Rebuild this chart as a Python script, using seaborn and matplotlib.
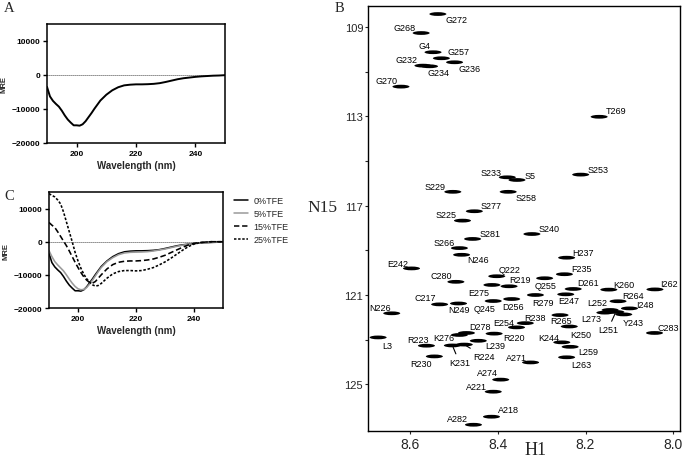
import numpy as np
import pandas as pd
import matplotlib
matplotlib.use("Agg")
import matplotlib.pyplot as plt
from matplotlib.path import Path
import seaborn as sns

# ---------------- data: CD spectra ----------------
wavelength = [190, 191, 192, 193, 194, 195, 196, 197, 198, 199, 200, 201, 202, 203, 204,
              205, 206, 207, 208, 210, 212, 214, 216, 218, 220, 222, 224, 226, 228, 230,
              232, 234, 236, 238, 240, 242, 244, 246, 248, 250]
mre_0 = [-3500, -6300, -7600, -8500, -9300, -10500, -11900, -13100, -14000, -14800, -14800,
         -14900, -14500, -13600, -12400, -11200, -9900, -8700, -7500, -5800, -4500, -3600,
         -3050, -2850, -2750, -2750, -2700, -2600, -2400, -2050, -1650, -1250, -950, -750,
         -550, -400, -300, -200, -150, -50]
mre_5 = [-2700, -4500, -6000, -7000, -7900, -8800, -10000, -11300, -12500, -13500, -14200,
         -14500, -14400, -13800, -12800, -11600, -10300, -9000, -7800, -6000, -4800, -3900,
         -3400, -3200, -3150, -3100, -3000, -2800, -2500, -2200, -1800, -1400, -1050, -800,
         -550, -400, -300, -200, -100, 0]
mre_15 = [5800, 5000, 4300, 3000, 1600, 200, -1200, -2800, -4500, -6200, -7800, -9300,
          -10600, -11600, -12300, -12500, -12000, -11000, -10000, -8200, -6900, -6200, -5900,
          -5800, -5800, -5700, -5500, -5200, -4700, -4100, -3300, -2500, -1700, -1000, -500,
          -250, -100, 0, 0, 0]
mre_25 = [14500, 14000, 13500, 12600, 11400, 9000, 6000, 3000, 0, -3200, -5800, -8000,
          -9800, -11200, -12200, -13000, -13400, -13200, -12600, -11000, -9700, -9000, -8700,
          -8700, -8800, -8700, -8300, -7800, -7000, -6100, -5000, -3800, -2600, -1500, -700,
          -300, -100, 0, 0, 0]
conditions = ["0%TFE", "5%TFE", "15%TFE", "25%TFE"]

# ---------------- data: HSQC peaks ----------------
residues = ["G272", "G268", "G4", "G257", "G236", "G232", "G234", "G270", "T269", "S253",
            "S233", "S5", "S229", "S258", "S277", "S225", "S281", "S240", "S266", "N246",
            "H237", "E242", "F235", "Q222", "Q255", "C280", "R219", "E275", "D261", "K260",
            "I262", "R279", "E247", "R264", "C217", "D256", "Q245", "N249", "N226", "L252",
            "L273", "L251", "Y243", "I248", "C283", "L3", "R223", "K276", "D278", "R220",
            "L239", "K231", "R224", "R230", "E254", "R238", "R265", "K250", "K244", "L259",
            "L263", "A271", "A274", "A221", "A218", "A282"]
h1_ppm = [8.536, 8.574, 8.547, 8.528, 8.498, 8.570, 8.555, 8.620, 8.169, 8.211,
          8.378, 8.356, 8.502, 8.376, 8.453, 8.480, 8.457, 8.322, 8.487, 8.482,
          8.243, 8.596, 8.248, 8.402, 8.293, 8.495, 8.374, 8.413, 8.228, 8.147,
          8.042, 8.314, 8.245, 8.126, 8.532, 8.368, 8.410, 8.489, 8.641, 8.144,
          8.156, 8.131, 8.113, 8.100, 8.043, 8.672, 8.562, 8.487, 8.471, 8.408,
          8.444, 8.503, 8.476, 8.544, 8.357, 8.337, 8.258, 8.237, 8.254, 8.235,
          8.243, 8.325, 8.393, 8.410, 8.414, 8.455]
n15_ppm = [108.42, 109.27, 110.13, 110.40, 110.58, 110.73, 110.76, 111.67, 113.02, 115.61,
           115.73, 115.85, 116.38, 116.38, 117.25, 117.67, 118.49, 118.27, 118.90, 119.20,
           119.33, 119.81, 120.07, 120.16, 120.25, 120.41, 120.61, 120.55, 120.73, 120.76,
           120.75, 121.00, 120.97, 121.28, 121.42, 121.18, 121.27, 121.38, 121.82, 121.67,
           121.79, 121.76, 121.87, 121.60, 122.70, 122.90, 123.27, 122.79, 122.70, 122.73,
           123.05, 123.26, 123.22, 123.75, 122.45, 122.26, 121.90, 122.41, 123.12, 123.32,
           123.79, 124.02, 124.79, 125.33, 126.45, 126.81]

# label placement (pixel offsets from the peak, image y downward) -- layout only
label_dx = [18.4, -16.4, -8.3, 17.0, 14.7, -16.0, 8.8, -14.0, 16.8, 17.2,
            -16.6, 12.9, -17.5, 17.7, 16.7, -16.6, 17.0, 16.9, -15.5, 16.5,
            16.5, -13.9, 16.8, 12.8, 1.2, -14.5, 11.2, -13.5, 15.0, 14.8,
            14.4, 7.1, 2.7, 14.8, -14.2, 1.6, -8.4, 0.7, -11.7, -12.5,
            -13.2, -8.0, 9.0, 15.5, 13.3, 8.9, -8.3, -15.8, 13.8, 20.3,
            16.5, 7.0, 19.5, -13.5, -12.5, 9.6, 0.8, 11.2, -13.3, 18.0,
            14.2, -13.9, -12.9, -16.5, 16.9, -15.8]
label_dy = [5.7, -5.3, -6.6, -6.6, 6.0, -5.7, 6.7, -6.0, -6.0, -5.4,
            -5.0, -4.3, -5.4, 5.6, -5.3, -5.7, -5.0, -5.7, -5.7, 5.0,
            -4.7, -5.3, -6.0, -7.0, 7.4, -6.7, -6.3, 7.3, -6.7, -5.4,
            -6.0, 7.3, 6.4, -5.6, -7.0, 7.3, 7.6, 6.0, -6.0, -7.2,
            5.8, 17.7, 7.8, -4.3, -5.7, 8.4, -6.0, 2.3, -6.3, 3.8,
            5.0, 16.8, 11.8, 6.7, -5.3, -5.7, 5.7, 7.7, -5.0, 4.6,
            6.7, -5.0, -6.7, -5.4, -7.0, -6.4]
leader_lines = ["K231", "R224", "L251"]

# ---------------- style ----------------
sns.set_style("ticks")
plt.rcParams["font.family"] = ["Liberation Sans", "DejaVu Sans"]
plt.rcParams["axes.linewidth"] = 1.1

W, H = 683, 460
fig = plt.figure(figsize=(W / 100, H / 100), dpi=100)


def rect(l, t, r, b):
    return [l / W, 1 - b / H, (r - l) / W, (b - t) / H]


cd = pd.DataFrame({
    "Wavelength": wavelength * 4,
    "MRE": mre_0 + mre_5 + mre_15 + mre_25,
    "Condition": sum([[c] * len(wavelength) for c in conditions], []),
})
palette = {"0%TFE": "black", "5%TFE": "#9a9a9a", "15%TFE": "black", "25%TFE": "black"}
dashes = {"0%TFE": "", "5%TFE": "", "15%TFE": (3.5, 1.8), "25%TFE": (1.6, 1.1)}


def style_cd(ax):
    ax.set_xlim(190, 250)
    ax.set_ylim(-20000, 15000)
    ax.set_xticks([200, 220, 240])
    ax.set_yticks([-20000, -10000, 0, 10000])
    ax.axhline(0, color="black", lw=0.6, ls=(0, (1, 1.4)), zorder=0)
    for s in ax.spines.values():
        s.set_visible(True)
        s.set_linewidth(1.1)
        s.set_color("black")
    ax.tick_params(direction="out", length=3, width=1, labelsize=6, pad=2, colors="black")
    for lab in ax.get_xticklabels() + ax.get_yticklabels():
        lab.set_fontweight("bold")
    ax.set_xlabel("Wavelength (nm)", fontsize=7, fontweight="bold", labelpad=2)
    ax.set_ylabel("MRE", fontsize=5.5, fontweight="bold", labelpad=3)


# Panel A
axA = fig.add_axes(rect(47, 25, 225, 144))
sns.lineplot(data=cd[cd["Condition"] == "0%TFE"], x="Wavelength", y="MRE",
             color="black", lw=1.4, ax=axA, legend=False)
style_cd(axA)

# Panel C
axC = fig.add_axes(rect(49, 193, 223, 309))
sns.lineplot(data=cd, x="Wavelength", y="MRE", hue="Condition", style="Condition",
             hue_order=conditions, style_order=conditions, palette=palette,
             dashes=dashes, lw=1.15, ax=axC)
style_cd(axC)
leg = axC.get_legend()
handles = list(leg.legend_handles)
labels = [t.get_text() for t in leg.texts]
leg.remove()
for h in handles:
    h.set_linewidth(1.1)
axC.legend(handles, labels, loc="upper left", bbox_to_anchor=(1.063, 0.965),
           frameon=False, fontsize=6.5, handlelength=1.5, handletextpad=0.7,
           labelspacing=0.45, borderpad=0, borderaxespad=0)

# Panel B
axB = fig.add_axes(rect(368, 7, 680, 432))
peaks = pd.DataFrame({"residue": residues, "H1": h1_ppm, "N15": n15_ppm})
circ = Path.unit_circle()
ell = Path(circ.vertices * np.array([1.0, 0.22]), circ.codes)
sns.scatterplot(data=peaks, x="H1", y="N15", marker=ell, s=150, color="black",
                edgecolor="none", linewidth=0, ax=axB, legend=False)
axB.set_xlim(8.695, 7.985)
axB.set_ylim(127.09, 108.06)
axB.set_xticks([8.6, 8.4, 8.2, 8.0])
axB.set_xticklabels(["8.6", "8.4", "8.2", "8.0"])
axB.set_yticks([109, 113, 117, 121, 125])
axB.set_yticks([111, 115, 119, 123], minor=True)
axB.tick_params(axis="x", direction="out", length=2.5, width=0.8, labelsize=10, pad=2)
axB.tick_params(axis="y", direction="out", length=2.5, width=0.8, labelsize=8, pad=1)
axB.tick_params(axis="y", which="minor", direction="out", length=2, width=0.8)
for s in axB.spines.values():
    s.set_visible(True)
    s.set_linewidth(1.0)
    s.set_color("black")
axB.set_xlabel("")
axB.set_ylabel("")

for name, hx, ny, dx, dy in zip(residues, h1_ppm, n15_ppm, label_dx, label_dy):
    kw = {}
    if name in leader_lines:
        kw["arrowprops"] = dict(arrowstyle="-", lw=0.8, color="black",
                                shrinkA=0.5, shrinkB=1.5)
    axB.annotate(name, xy=(hx, ny), xytext=(dx * 0.72, -dy * 0.72),
                 textcoords="offset points", ha="center", va="center",
                 fontsize=6.5, color="black", **kw)

serif = ["Liberation Serif", "DejaVu Serif"]
fig.text(322 / W, 1 - 208 / H, "N15", family=serif, fontsize=12.5, ha="center", va="center")
fig.text(536 / W, 1 - 451 / H, "H1", family=serif, fontsize=13, ha="center", va="center")
fig.text(9 / W, 1 - 9 / H, "A", family=serif, fontsize=10.5, ha="center", va="center")
fig.text(9 / W, 1 - 197 / H, "C", family=serif, fontsize=10.5, ha="center", va="center")
fig.text(339 / W, 1 - 8 / H, "B", family=serif, fontsize=10.5, ha="center", va="center")

fig.savefig("out.png", dpi=100)
